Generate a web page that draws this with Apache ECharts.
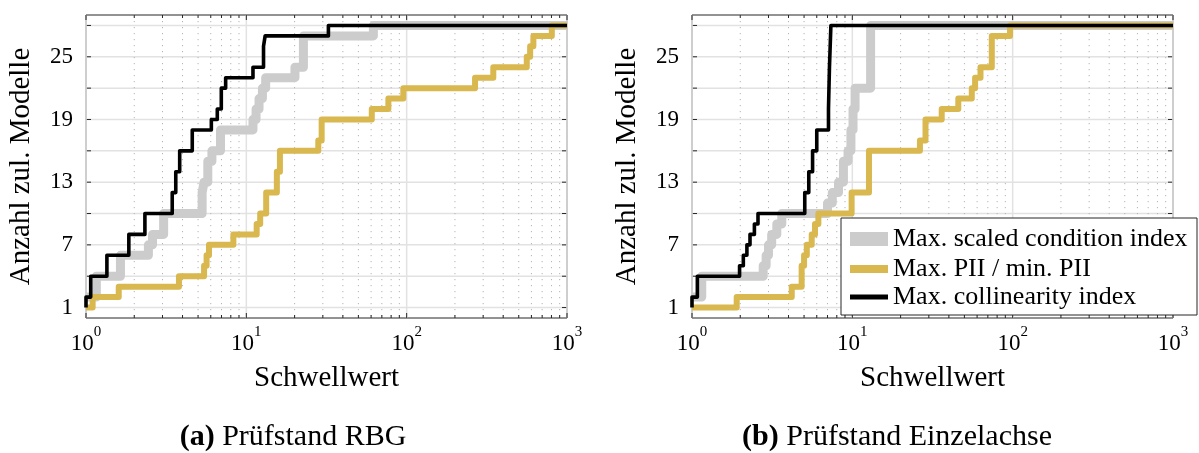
<!DOCTYPE html>
<html>
<head>
<meta charset="utf-8">
<script src="https://cdn.jsdelivr.net/npm/echarts@6/dist/echarts.min.js"></script>
<style>
  html, body { margin: 0; padding: 0; background: #ffffff; }
  #chart { width: 1199px; height: 453px; }
</style>
</head>
<body>
<div id="chart"></div>
<script>
// ---- Series names ----
const seriesNames = ['Max. scaled condition index', 'Max. PII / min. PII', 'Max. collinearity index'];

// ---- (a) Prüfstand RBG: threshold at which the count of admissible models steps up ----
const rbgCondX = [1, 1.16, 1.64, 2.45, 2.6, 3.05, 5.3, 5.45, 5.75, 6.1, 6.9, 11.0, 11.5, 12.0, 12.6, 13.2, 20.1, 22.7, 62, 1000];
const rbgCondY = [2, 4, 6, 7, 8, 10, 12, 13, 15, 16, 18, 19, 20, 21, 22, 23, 24, 27, 28, 28];
const rbgPiiX = [1, 1.1, 1.6, 3.8, 5.45, 5.65, 5.85, 8.3, 11.6, 12.2, 13.3, 15.5, 16.2, 28.1, 29.5, 60.6, 76.9, 95.3, 267, 347, 561, 589, 617, 804, 1000];
const rbgPiiY = [1, 2, 3, 4, 5, 6, 7, 8, 9, 10, 12, 14, 16, 17, 19, 20, 21, 22, 23, 24, 25, 26, 27, 28, 28];
const rbgCollX = [1, 1, 1.07, 1.35, 1.85, 2.33, 3.45, 3.63, 3.84, 4.6, 6.05, 6.59, 6.98, 7.43, 11.0, 12.8, 13.1, 32.5, 1000];
const rbgCollY = [1, 2, 4, 6, 8, 10, 12, 14, 16, 18, 19, 20, 22, 23, 24, 26, 27, 28, 28];

// ---- (b) Prüfstand Einzelachse ----
const ezaCondX = [1, 1.15, 2.78, 2.9, 3.0, 3.14, 3.38, 3.63, 7.0, 7.5, 8.2, 8.8, 9.4, 9.8, 10.1, 10.4, 13.0, 1000];
const ezaCondY = [2, 4, 5, 6, 7, 8, 9, 10, 11, 12, 13, 15, 16, 18, 20, 22, 28, 28];
const ezaPiiX = [1, 1.9, 4.19, 4.83, 5.0, 5.2, 5.58, 5.85, 6.14, 9.9, 12.7, 26.4, 28.6, 36.1, 45.8, 55.6, 58.3, 63, 74.1, 96.3, 1000];
const ezaPiiY = [1, 2, 3, 5, 6, 7, 8, 9, 10, 12, 16, 17, 19, 20, 21, 22, 23, 24, 27, 28, 28];
const ezaCollX = [1, 1, 1.08, 1.98, 2.09, 2.2, 2.3, 2.45, 2.58, 5.05, 5.35, 5.65, 6.0, 7.1, 7.2, 7.35, 1000];
const ezaCollY = [1, 2, 4, 5, 6, 7, 8, 9, 10, 12, 14, 16, 18, 20, 24, 28, 28];

// ---- Axis ticks and labels ----
const yGridValues = [1, 4, 7, 10, 13, 16, 19, 22, 25, 28];
const yLabelValues = [1, 7, 13, 19, 25];
const xMajorValues = [1, 10, 100, 1000];
const xMinorValues = [2, 3, 4, 5, 6, 7, 8, 9, 20, 30, 40, 50, 60, 70, 80, 90, 200, 300, 400, 500, 600, 700, 800, 900];
const yRange = [0, 29];
const xRange = [1, 1000];

const captions = ['Prüfstand RBG', 'Prüfstand Einzelachse'];
const captionTags = ['(a)', '(b)'];

const FONT = "'Liberation Serif', 'DejaVu Serif', serif";
const colors = ['#cccccc', '#d9b84f', '#000000'];
const widths = [9, 6, 3.6];

const zip = (xs, ys) => xs.map((x, i) => [x, ys[i]]);

// Grid lines + inward frame ticks, placed through the axes' own scales
const guideData = [
  ...yGridValues.map(v => [1, v, 0]),
  ...xMajorValues.map(v => [v, 1, 1]),
  ...xMinorValues.map(v => [v, 1, 2])
];

function seg(x1, y1, x2, y2, style) {
  return { type: 'line', shape: { x1, y1, x2, y2 }, style };
}

function renderGuides(params, api) {
  const cs = params.coordSys;
  const L = cs.x, R = cs.x + cs.width, T = cs.y, B = cs.y + cs.height;
  const kind = api.value(2);
  const tick = { stroke: '#262626', lineWidth: 1 };
  const out = [];
  if (kind === 0) {
    const y = api.coord([xRange[0], api.value(1)])[1];
    out.push(seg(L, y, R, y, { stroke: '#e2e2e2', lineWidth: 1.5 }));
    out.push(seg(L, y, L + 5, y, tick));
    out.push(seg(R - 5, y, R, y, tick));
  } else {
    const x = api.coord([api.value(0), yRange[0]])[0];
    if (kind === 1) {
      out.push(seg(x, T, x, B, { stroke: '#e2e2e2', lineWidth: 1.5 }));
      out.push(seg(x, B, x, B - 5, tick));
      out.push(seg(x, T, x, T + 5, tick));
    } else {
      out.push(seg(x, T, x, B, { stroke: '#b4b4b4', lineWidth: 1, lineDash: [1.2, 4.8] }));
      out.push(seg(x, B, x, B - 3, tick));
      out.push(seg(x, T, x, T + 3, tick));
    }
  }
  return { type: 'group', children: out };
}

const panels = [
  { left: 86, data: [zip(rbgCondX, rbgCondY), zip(rbgPiiX, rbgPiiY), zip(rbgCollX, rbgCollY)] },
  { left: 692, data: [zip(ezaCondX, ezaCondY), zip(ezaPiiX, ezaPiiY), zip(ezaCollX, ezaCollY)] }
];

const grids = [], xAxes = [], yAxes = [], series = [];
panels.forEach((p, i) => {
  grids.push({
    left: p.left, top: 15, width: 481, height: 303,
    show: true, borderColor: '#262626', borderWidth: 1, backgroundColor: 'transparent',
    containLabel: false, outerBoundsMode: 'none'
  });
  xAxes.push({
    gridIndex: i, type: 'log', logBase: 10, min: xRange[0], max: xRange[1],
    name: 'Schwellwert', nameLocation: 'middle', nameGap: 46,
    nameTextStyle: { fontFamily: FONT, fontSize: 29, color: '#000' },
    axisLine: { show: false }, axisTick: { show: false },
    splitLine: { show: false }, minorTick: { show: false }, minorSplitLine: { show: false },
    axisLabel: {
      margin: 7, color: '#000', fontFamily: FONT,
      formatter: v => '{b|10}{s|' + Math.round(Math.log10(v)) + '}',
      rich: {
        b: { fontFamily: FONT, fontSize: 23, color: '#000', verticalAlign: 'bottom', lineHeight: 30 },
        s: { fontFamily: FONT, fontSize: 15, color: '#000', verticalAlign: 'top', lineHeight: 22 }
      }
    }
  });
  yAxes.push({
    gridIndex: i, type: 'value', min: yRange[0], max: yRange[1], interval: 1,
    name: 'Anzahl zul. Modelle', nameLocation: 'middle', nameGap: 50,
    nameTextStyle: { fontFamily: FONT, fontSize: 29, color: '#000' },
    axisLine: { show: false }, axisTick: { show: false }, splitLine: { show: false },
    axisLabel: {
      margin: 13, fontFamily: FONT, fontSize: 23, color: '#000',
      formatter: v => (yLabelValues.indexOf(Math.round(v)) >= 0 ? String(Math.round(v)) : '')
    }
  });
  series.push({
    type: 'custom', name: 'guides' + i, xAxisIndex: i, yAxisIndex: i,
    data: guideData, encode: { x: 0, y: 1 }, renderItem: renderGuides,
    silent: true, z: 1, animation: false, clip: false
  });
  p.data.forEach((d, k) => {
    series.push({
      type: 'line', name: seriesNames[k], xAxisIndex: i, yAxisIndex: i,
      data: d, step: 'end', symbol: 'none', showSymbol: false,
      color: colors[k], itemStyle: { color: colors[k] },
      lineStyle: { color: colors[k], width: widths[k], join: 'round' },
      clip: false, z: 2 + k, animation: false, emphasis: { disabled: true }
    });
  });
});

// Legend: one block per entry so each swatch keeps its own thickness
const legendRows = [
  { top: 226, h: 14 },
  { top: 256, h: 8 },
  { top: 284, h: 5 }
];
const legends = legendRows.map((r, k) => ({
  data: [seriesNames[k]], left: 850, top: r.top, padding: 0,
  orient: 'vertical', icon: 'rect', itemWidth: 38, itemHeight: r.h, itemGap: 0,
  itemStyle: { borderWidth: 0 },
  textStyle: { fontFamily: FONT, fontSize: 26, color: '#000' },
  selectedMode: false, z: 20
}));

const graphics = [
  {
    type: 'rect', z: 15,
    shape: { x: 841, y: 218, width: 356, height: 97 },
    style: { fill: '#ffffff', stroke: '#262626', lineWidth: 1 }
  },
  ...captions.map((c, i) => ({
    type: 'text', x: [293, 897][i], y: 437, z: 20,
    style: {
      text: '{b|' + captionTags[i] + '} ' + c,
      align: 'center', verticalAlign: 'middle',
      fontFamily: FONT, fontSize: 30, fill: '#000',
      rich: { b: { fontFamily: FONT, fontSize: 30, fontWeight: 'bold', fill: '#000' } }
    }
  }))
];

const chart = echarts.init(document.getElementById('chart'), null, { renderer: 'canvas' });
chart.setOption({
  backgroundColor: '#ffffff',
  animation: false,
  grid: grids,
  xAxis: xAxes,
  yAxis: yAxes,
  series: series,
  legend: legends,
  graphic: graphics
});
</script>
</body>
</html>
